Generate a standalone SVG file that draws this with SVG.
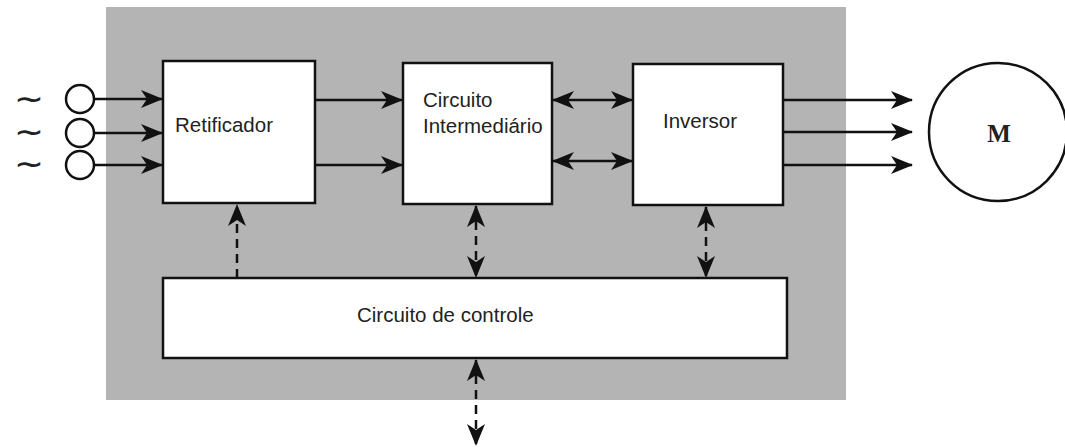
<svg xmlns="http://www.w3.org/2000/svg" width="1065" height="448" viewBox="0 0 1065 448">
<style>
.box{fill:#fff;stroke:#111;stroke-width:2.5}
.ln{stroke:#111;stroke-width:2.5;fill:none}
.dash{stroke:#111;stroke-width:2.5;fill:none;stroke-dasharray:9 6}
.t{font-family:"Liberation Sans",Arial,sans-serif;font-size:20.5px;fill:#222}
.m{font-family:"Liberation Serif","Times New Roman",serif;font-size:25px;font-weight:bold;fill:#222}
.tilde{font-family:"DejaVu Sans",sans-serif;font-size:25px;font-weight:bold;fill:#222}
</style>
<defs>
<marker id="ah" viewBox="0 0 22 18" refX="21" refY="9" markerWidth="22" markerHeight="18" markerUnits="userSpaceOnUse" orient="auto-start-reverse">
<path d="M0,0 L22,9 L0,18 L6,9 Z" fill="#111"/>
</marker>
</defs>
<rect x="106" y="7" width="740" height="393" fill="#b4b4b4"/>
<g id="inputs">
<text class="tilde" x="14" y="108" textLength="30" lengthAdjust="spacingAndGlyphs">~</text>
<text class="tilde" x="14" y="141" textLength="30" lengthAdjust="spacingAndGlyphs">~</text>
<text class="tilde" x="14" y="173" textLength="30" lengthAdjust="spacingAndGlyphs">~</text>
<circle cx="80" cy="99" r="14" class="ln" style="fill:#fff"/>
<circle cx="80" cy="133" r="14" class="ln" style="fill:#fff"/>
<circle cx="80" cy="165" r="14" class="ln" style="fill:#fff"/>
</g>
<g id="retificador">
<rect class="box" x="163" y="61" width="152" height="142"/>
<text class="t" x="175" y="132">Retificador</text>
</g>
<g id="intermediario">
<rect class="box" x="403" y="63" width="149" height="141"/>
<text class="t" x="423" y="107">Circuito</text>
<text class="t" x="423" y="133">Intermediário</text>
</g>
<g id="inversor">
<rect class="box" x="633" y="64" width="150" height="141"/>
<text class="t" x="663" y="128">Inversor</text>
</g>
<g id="controle">
<rect class="box" x="163" y="278" width="624" height="80"/>
<text class="t" x="357" y="322">Circuito de controle</text>
</g>
<g id="motor">
<circle cx="998" cy="132" r="69" class="ln" style="fill:#fff"/>
<text class="m" x="999" y="142" text-anchor="middle">M</text>
</g>
<g id="connectors">
<line class="ln" x1="94" y1="99" x2="162" y2="99" marker-end="url(#ah)"/>
<line class="ln" x1="94" y1="133" x2="162" y2="133" marker-end="url(#ah)"/>
<line class="ln" x1="94" y1="165" x2="162" y2="165" marker-end="url(#ah)"/>
<line class="ln" x1="315" y1="100" x2="402" y2="100" marker-end="url(#ah)"/>
<line class="ln" x1="315" y1="165" x2="402" y2="165" marker-end="url(#ah)"/>
<line class="ln" x1="553" y1="100" x2="632" y2="100" marker-start="url(#ah)" marker-end="url(#ah)"/>
<line class="ln" x1="553" y1="161" x2="632" y2="161" marker-start="url(#ah)" marker-end="url(#ah)"/>
<line class="ln" x1="783" y1="100" x2="912" y2="100" marker-end="url(#ah)"/>
<line class="ln" x1="783" y1="132" x2="912" y2="132" marker-end="url(#ah)"/>
<line class="ln" x1="783" y1="165" x2="912" y2="165" marker-end="url(#ah)"/>
<line class="dash" x1="237" y1="278" x2="237" y2="205" marker-end="url(#ah)"/>
<line class="dash" x1="476" y1="206" x2="476" y2="277" marker-start="url(#ah)" marker-end="url(#ah)"/>
<line class="dash" x1="706" y1="207" x2="706" y2="277" marker-start="url(#ah)" marker-end="url(#ah)"/>
<line class="dash" x1="476" y1="360" x2="476" y2="445" marker-start="url(#ah)" marker-end="url(#ah)"/>
</g>
</svg>
